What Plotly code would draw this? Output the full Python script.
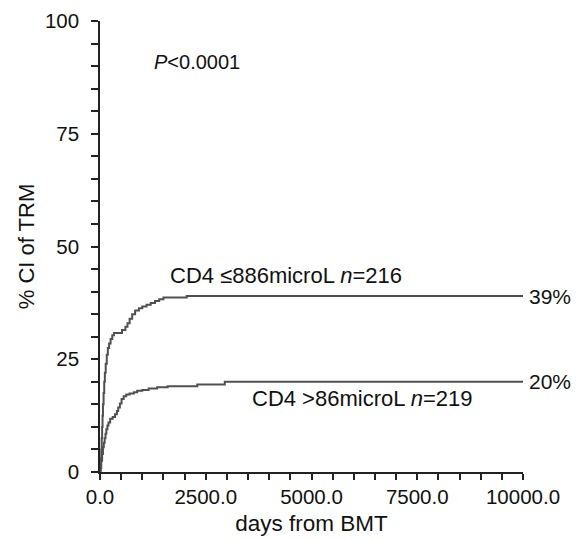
import plotly.graph_objects as go

# Cumulative incidence of transplant-related mortality (step curves)
days_low_cd4 = [0, 10, 20, 30, 40, 50, 60, 70, 85, 100, 115, 135, 160, 185, 215,
                250, 290, 330, 520, 600, 650, 700, 760, 830, 920, 1000, 1100,
                1200, 1300, 1400, 1500, 2050, 10000]
ci_low_cd4 = [0, 1, 3, 5, 7.5, 10, 12.5, 15, 17.5, 20, 22, 24, 26, 27.5, 28.5,
              29.5, 30.3, 30.8, 31.5, 32.2, 33, 34, 35, 35.8, 36.3, 36.7, 37.1,
              37.5, 37.9, 38.3, 38.7, 39, 39]

days_high_cd4 = [0, 15, 30, 50, 70, 90, 110, 130, 150, 175, 200, 240, 300, 355,
                 400, 430, 470, 510, 560, 620, 700, 800, 880, 1000, 1150, 1350,
                 1600, 2300, 2950, 10000]
ci_high_cd4 = [0, 1, 2.5, 4, 5.5, 6.5, 7.5, 8.5, 9.5, 10.3, 11, 11.8, 12.2, 12.8,
               13.5, 14.3, 15.2, 16.2, 16.8, 17.2, 17.4, 17.7, 18.0, 18.2, 18.5,
               18.8, 19.0, 19.4, 20, 20]

x_ticks = list(range(0, 10001, 500))
x_labels = ["0.0", "2500.0", "5000.0", "7500.0", "10000.0"]
y_ticks = list(range(0, 101, 5))
y_labels = ["0", "25", "50", "75", "100"]

FONT = "Liberation Sans, Arial, sans-serif"
LINE_COLOR = "#505050"

fig = go.Figure()
for xs, ys in [(days_low_cd4, ci_low_cd4), (days_high_cd4, ci_high_cd4)]:
    fig.add_trace(go.Scatter(x=xs, y=ys, mode="lines", line_shape="hv",
                             line=dict(color=LINE_COLOR, width=2),
                             showlegend=False, hoverinfo="skip"))

x_text = [x_labels[x_ticks.index(v) // 5] if v % 2500 == 0 else "" for v in x_ticks]
y_text = [y_labels[y_ticks.index(v) // 5] if v % 25 == 0 else "" for v in y_ticks]

fig.update_layout(
    width=581, height=540,
    margin=dict(l=100, r=58, t=21, b=68),
    paper_bgcolor="white", plot_bgcolor="white",
    font=dict(family=FONT, size=20, color="#111"),
    xaxis=dict(range=[0, 10000], tickmode="array", tickvals=x_ticks, ticktext=x_text,
               ticks="outside", ticklen=6, tickwidth=1.5, tickcolor="#222",
               showline=True, linecolor="#222", linewidth=1.5,
               showgrid=False, zeroline=False, tickfont=dict(size=20.5),
               automargin=False,
               title=dict(text="days from BMT", font=dict(size=22.5), standoff=8)),
    yaxis=dict(range=[0, 100], tickmode="array", tickvals=y_ticks, ticktext=y_text,
               ticks="outside", ticklen=7, tickwidth=1.5, tickcolor="#222",
               showline=True, linecolor="#222", linewidth=1.5,
               showgrid=False, zeroline=False, tickfont=dict(size=20.5),
               ticklabelstandoff=8, automargin=False,
               title=dict(text="% CI of TRM", font=dict(size=22), standoff=4)),
)

fig.add_annotation(x=1230, y=90.9, xref="x", yref="y", xanchor="left", yanchor="middle",
                   text="<i>P</i><0.0001", showarrow=False, font=dict(size=20))
fig.add_annotation(x=1608, y=43.5, xref="x", yref="y", xanchor="left", yanchor="middle",
                   text="CD4 ≤886microL <i>n</i>=216", showarrow=False, font=dict(size=22))
fig.add_annotation(x=3546, y=16.4, xref="x", yref="y", xanchor="left", yanchor="middle",
                   text="CD4 >86microL <i>n</i>=219", showarrow=False, font=dict(size=22))
fig.add_annotation(x=10000, y=ci_low_cd4[-1], xref="x", yref="y", xanchor="left",
                   yanchor="middle", xshift=4, text=f"{ci_low_cd4[-1]:.0f}%",
                   showarrow=False, font=dict(size=21))
fig.add_annotation(x=10000, y=ci_high_cd4[-1], xref="x", yref="y", xanchor="left",
                   yanchor="middle", xshift=4, text=f"{ci_high_cd4[-1]:.0f}%",
                   showarrow=False, font=dict(size=21))

fig.write_html("out.html")
